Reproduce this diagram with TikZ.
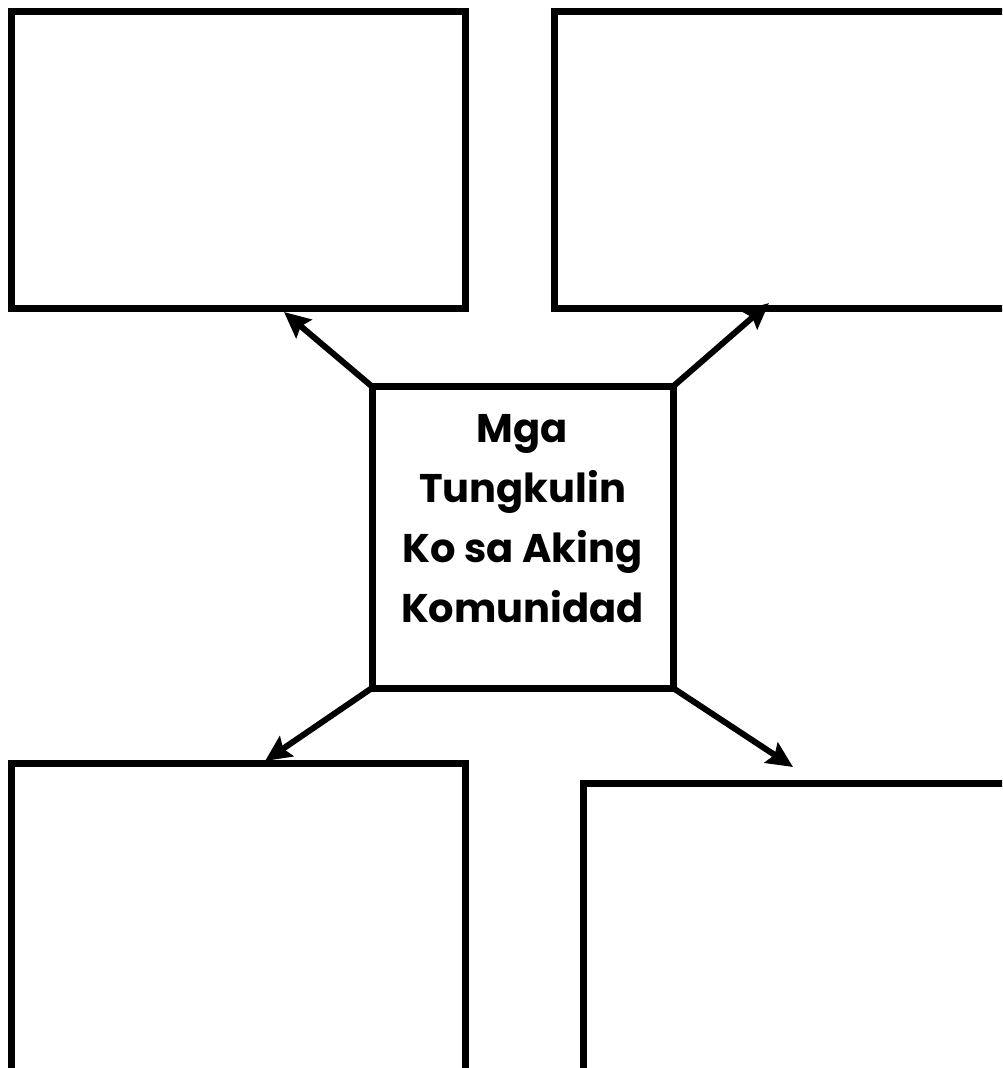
\documentclass[tikz,border=0pt]{standalone}
\usepackage{fontspec}
\newfontfamily\titlefont{Poppins}
\usetikzlibrary{arrows.meta}

\begin{document}
\begin{tikzpicture}[x=1pt, y=-1pt, line cap=butt, line join=miter,
		box/.style={draw, line width=7pt, inner sep=0pt, outer sep=0pt},
		link/.style={line width=6pt, -{Stealth[length=26pt, width=24pt, inset=4pt]}},
		title/.style={font=\titlefont\bfseries\fontsize{40}{60}\selectfont, align=center}]
	
	% Khung hinh (giu dung kich thuoc anh)
	\clip (0,0) rectangle (1002,1068);
	\fill[white] (0,0) rectangle (1002,1068);
	
	% Cac o trong xung quanh
	\node[box, minimum width=454pt, minimum height=297.5pt] (tl) at (238,159.75) {};
	\node[box, minimum width=500pt, minimum height=297.5pt] (tr) at (804.5,159.75) {};
	\node[box, minimum width=454pt, minimum height=400pt] (bl) at (238,963) {};
	\node[box, minimum width=460pt, minimum height=400pt] (br) at (813.5,983.5) {};
	
	% O o giua
	\node[box, minimum width=301pt, minimum height=301.5pt] (c) at (522.5,537.25) {};
	\node[title] (ctitle) at ([yshift=19pt]c.center) {Mga\\Tungkulin\\Ko sa Aking\\Komunidad};
	
	% Diem cuoi cua cac mui ten
	\coordinate (tlend) at (284,312);
	\coordinate (trend) at (769,303);
	\coordinate (blend) at (265,761);
	\coordinate (brend) at (793,767);
	
	% Cac mui ten tu o giua
	\draw[link] (c.north west) -- (tlend);
	\draw[link] (c.north east) -- (trend);
	\draw[link] (c.south west) -- (blend);
	\draw[link] (c.south east) -- (brend);
	
\end{tikzpicture}
\end{document}
